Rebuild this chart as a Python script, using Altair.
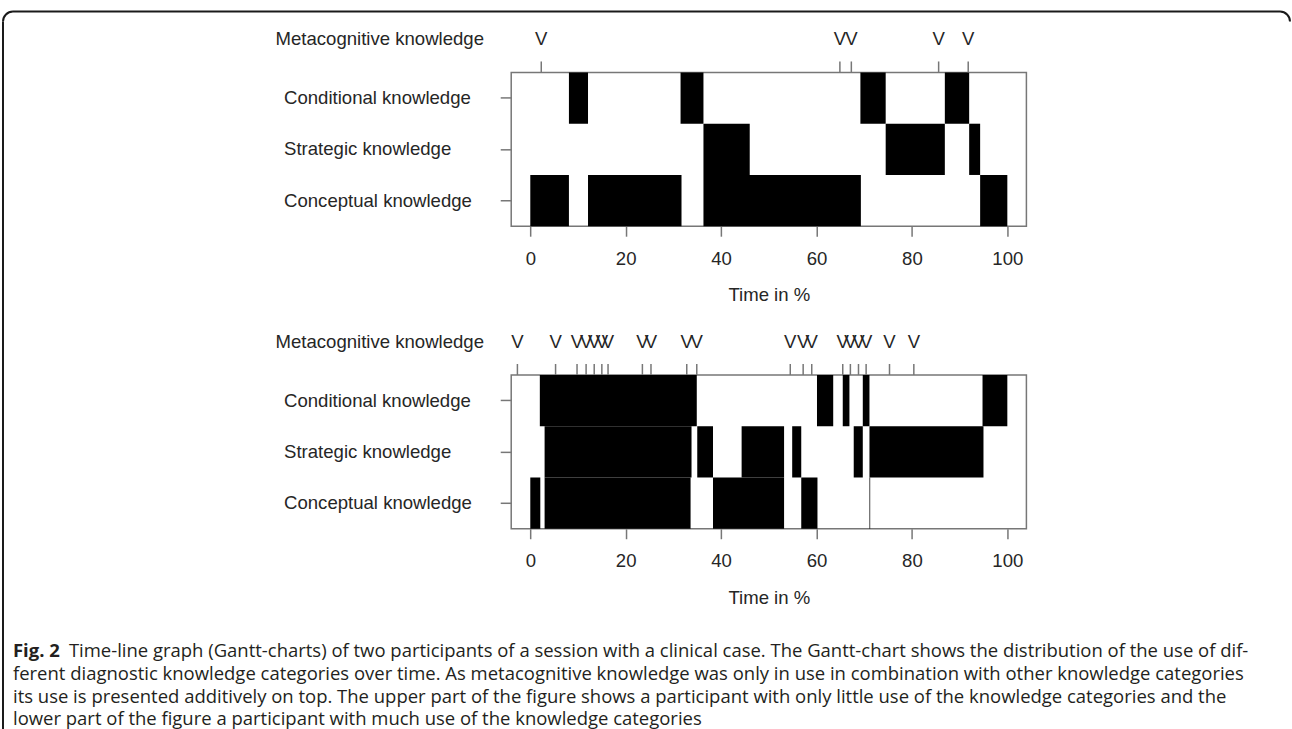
import math
import altair as alt
import pandas as pd

# ---------------- data ----------------
CATS = ["Conditional knowledge", "Strategic knowledge", "Conceptual knowledge"]
META_LABEL = "Metacognitive knowledge"
X_TICKS = [0, 20, 40, 60, 80, 100]
X_TITLE = "Time in %"

# upper participant
top_cond_start = [8.1, 31.5, 69.2, 86.9]
top_cond_end = [12.1, 36.3, 74.5, 92.0]
top_strat_start = [36.3, 74.5, 92.0]
top_strat_end = [46.0, 86.9, 94.3]
top_conc_start = [0.0, 12.1, 36.3, 94.3]
top_conc_end = [8.1, 31.7, 69.3, 100.0]
top_meta = [2.3, 64.9, 67.3, 85.6, 91.8]

# lower participant
bot_cond_start = [2.0, 60.1, 65.5, 69.7, 94.8]
bot_cond_end = [34.9, 63.5, 66.9, 71.1, 100.0]
bot_strat_start = [3.0, 35.0, 44.3, 54.9, 67.8, 71.1]
bot_strat_end = [33.8, 38.3, 53.2, 56.8, 69.7, 95.0]
bot_conc_start = [0.0, 3.0, 38.3, 56.8, 71.1]
bot_conc_end = [2.1, 33.6, 53.2, 60.2, 71.25]
bot_meta = [-2.7, 5.3, 9.8, 11.7, 13.4, 15.0, 16.3, 23.5, 25.3, 32.8, 34.9,
            54.5, 57.2, 59.0, 65.5, 67.1, 68.8, 70.4, 75.3, 80.4]

CAPTION_BOLD = "Fig. 2"
CAPTION_LINES = [
    "Time-line graph (Gantt-charts) of two participants of a session with a clinical case. The Gantt-chart shows the distribution of the use of dif-",
    "ferent diagnostic knowledge categories over time. As metacognitive knowledge was only in use in combination with other knowledge categories",
    "its use is presented additively on top. The upper part of the figure shows a participant with only little use of the knowledge categories and the",
    "lower part of the figure a participant with much use of the knowledge categories",
]

# ---------------- styling ----------------
FONT = "Liberation Sans"
FS = 18.6
TXT = "#262626"
GRAY = "#777777"
CAP_FONT = "Open Sans"
CAP_FS = 18.5
CAP_COLOR = "#231f20"
W, H = 516, 154
OX, OY = 511, 71  # absolute position of the upper plot area (for decorations)

xscale = alt.Scale(domain=[-4, 104], nice=False, zero=False)
dummy = pd.DataFrame({"d": [0]})


def bars_df(cs, ce, ss, se, ks, ke):
    rows = []
    for cat, s, e in ((CATS[0], cs, ce), (CATS[1], ss, se), (CATS[2], ks, ke)):
        for a, b in zip(s, e):
            rows.append({"cat": cat, "start": a, "end": b})
    return pd.DataFrame(rows)


def panel(df, meta, extra=()):
    bars = alt.Chart(df).mark_rect(color="black").encode(
        x=alt.X("start:Q", scale=xscale, title=X_TITLE,
                axis=alt.Axis(values=X_TICKS, title=X_TITLE, tickSize=10,
                              labelPadding=13, titlePadding=18, domain=False,
                              grid=False, labelFlush=False, format="d")),
        x2="end:Q",
        y=alt.Y("cat:N", sort=CATS,
                scale=alt.Scale(domain=CATS, paddingInner=0, paddingOuter=0),
                axis=alt.Axis(title=None, tickSize=11, labelAlign="left",
                              labelPadding=217, domain=False, grid=False,
                              labelBaseline="middle", labelLimit=0)),
    )
    mdf = pd.DataFrame({"t": meta})
    mticks = alt.Chart(mdf).mark_rule(color=GRAY, strokeWidth=1.5).encode(
        x=alt.X("t:Q", scale=xscale, title=X_TITLE),
        y=alt.value(-11), y2=alt.value(0))
    mtext = alt.Chart(mdf).mark_text(text="V", font=FONT, fontSize=FS, color=TXT,
                                     baseline="middle").encode(
        x=alt.X("t:Q", scale=xscale, title=X_TITLE), y=alt.value(-33.5))
    mlabel = alt.Chart(pd.DataFrame({"label": [META_LABEL]})).mark_text(
        align="left", baseline="middle", font=FONT, fontSize=FS, color=TXT).encode(
        x=alt.value(-236), y=alt.value(-33.5), text="label:N")
    return alt.layer(bars, mticks, mtext, mlabel, *extra).properties(width=W, height=H)


# ---------------- decorations (frame + caption) in upper panel coords ----------------
def ax(v):
    return alt.value(v - OX)


def ay(v):
    return alt.value(v - OY)


frame_col = "#1a1a1a"
frame = [
    alt.Chart(dummy).mark_rule(color=frame_col, strokeWidth=2).encode(
        x=ax(12), x2=ax(1281), y=ay(10)),
    alt.Chart(dummy).mark_rule(color=frame_col, strokeWidth=2).encode(
        x=ax(2), y=ay(20), y2=ay(729)),
    alt.Chart(dummy).mark_arc(color=frame_col).encode(
        x=ax(12), y=ay(20), theta=alt.value(1.5 * math.pi), theta2=alt.value(2 * math.pi),
        radius=alt.value(11), radius2=alt.value(9)),
    alt.Chart(dummy).mark_arc(color=frame_col).encode(
        x=ax(1281), y=ay(20), theta=alt.value(0), theta2=alt.value(0.5 * math.pi),
        radius=alt.value(11), radius2=alt.value(9)),
]

cap_y = [650.5, 673.5, 696.5, 719]
caption = [
    alt.Chart(dummy).mark_text(text=CAPTION_BOLD, align="left", baseline="middle",
                               font=CAP_FONT, fontSize=CAP_FS, fontWeight="bold",
                               color=CAP_COLOR).encode(x=ax(12), y=ay(cap_y[0]))
]
for i, line in enumerate(CAPTION_LINES):
    caption.append(
        alt.Chart(dummy).mark_text(text=line, align="left", baseline="middle",
                                   font=CAP_FONT, fontSize=CAP_FS, color=CAP_COLOR).encode(
            x=ax(68 if i == 0 else 12), y=ay(cap_y[i])))

top = panel(bars_df(top_cond_start, top_cond_end, top_strat_start, top_strat_end,
                    top_conc_start, top_conc_end), top_meta, extra=frame + caption)
bottom = panel(bars_df(bot_cond_start, bot_cond_end, bot_strat_start, bot_strat_end,
                       bot_conc_start, bot_conc_end), bot_meta)

chart = alt.vconcat(top, bottom, spacing=149, bounds="flush").properties(
    padding={"left": 1, "top": 9, "right": 0, "bottom": 0},
    background="white",
).configure_view(
    stroke=GRAY, strokeWidth=1.5
).configure_axis(
    labelFont=FONT, labelFontSize=FS, labelColor=TXT,
    titleFont=FONT, titleFontSize=FS, titleFontWeight="normal", titleColor=TXT,
    tickColor=GRAY, tickWidth=1.5,
)

chart.save("out.html", embed_options={"renderer": "svg", "actions": False})
